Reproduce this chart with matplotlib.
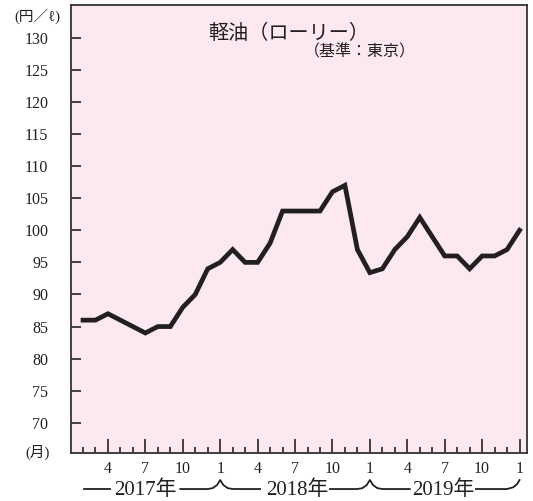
import matplotlib as mpl
mpl.use('Agg')
import matplotlib.pyplot as plt
import numpy as np

plt.rcParams['font.family'] = ['Liberation Serif', 'Noto Sans CJK JP', 'DejaVu Sans']

# monthly price, Feb 2017 .. Jan 2020 (yen / litre)
months = ['2017-02', '2017-03', '2017-04', '2017-05', '2017-06', '2017-07',
          '2017-08', '2017-09', '2017-10', '2017-11', '2017-12',
          '2018-01', '2018-02', '2018-03', '2018-04', '2018-05', '2018-06',
          '2018-07', '2018-08', '2018-09', '2018-10', '2018-11', '2018-12',
          '2019-01', '2019-02', '2019-03', '2019-04', '2019-05', '2019-06',
          '2019-07', '2019-08', '2019-09', '2019-10', '2019-11', '2019-12',
          '2020-01']
price = [86, 86, 87, 86, 85, 84, 85, 85, 88, 90, 94,
         95, 97, 95, 95, 98, 103, 103, 103, 103, 106, 107, 97,
         93.4, 94, 97, 99, 102, 99, 96, 96, 94, 96, 96, 97,
         100]
yticks = [70, 75, 80, 85, 90, 95, 100, 105, 110, 115, 120, 125, 130]
month_labels = ['4', '7', '10', '1']
years = ['2017年', '2018年', '2019年']

# x position: months since Jan 2017
xpos = [(int(m[:4]) - 2017) * 12 + int(m[5:]) - 1 for m in months]

fig = plt.figure(figsize=(5.33, 5.01), dpi=100)
ax = fig.add_axes([0.1323, 0.0958, 0.8565, 0.8942])
ax.set_facecolor('#fce8f1')

ax.plot(xpos, price, color='#231f20', lw=3.4, solid_joinstyle='miter')

ax.set_xlim(0, 36.6)
ax.set_ylim(65.3, 135.1)

for s in ax.spines.values():
    s.set_color('#333333')
    s.set_linewidth(1.3)

ax.set_yticks(yticks)
ax.set_yticklabels([str(v) for v in yticks])
ax.tick_params(axis='y', direction='in', length=7, width=1.3, color='#333333',
               pad=16, labelsize=11.5, labelcolor='#231f20')

major = list(range(3, 37, 3))
minor = [i for i in range(1, 37) if i % 3 != 0]
ax.set_xticks(major)
ax.set_xticklabels([month_labels[i % 4] for i in range(len(major))])
ax.set_xticks(minor, minor=True)
ax.tick_params(axis='x', which='major', direction='in', length=10, width=1.3,
               color='#333333', pad=6, labelsize=11.5, labelcolor='#231f20')
ax.tick_params(axis='x', which='minor', direction='in', length=4, width=1.3,
               color='#333333')

# titles and unit labels
ax.text(0.478, 0.9375, '軽油（ローリー）', transform=ax.transAxes, ha='center',
        va='center', fontsize=14.5, family=['Noto Sans CJK JP'], color='#231f20')
ax.text(0.634, 0.893, '（基準：東京）', transform=ax.transAxes, ha='center',
        va='center', fontsize=11.5, color='#231f20')
ax.text(-0.072, 0.975, '(円／ℓ)', transform=ax.transAxes, ha='center',
        va='center', fontsize=10.5, color='#231f20')
ax.text(-0.072, 0.002, '(月)', transform=ax.transAxes, ha='center',
        va='center', fontsize=10.5, color='#231f20')

# year row with brace-like separators
tr = ax.get_xaxis_transform()
yb, yp = -0.0804, -0.0603
kw = dict(color='#231f20', lw=1.3, transform=tr, clip_on=False)
ax.plot([1.1, 3.2], [yb, yb], **kw)
for c in (12, 24):
    ax.plot([c - 3.2, c - 1.0, c - 0.6, c - 0.25, c, c + 0.25, c + 0.6, c + 1.0, c + 3.2],
            [yb, yb, yb + 0.002, yb + 0.009, yp, yb + 0.009, yb + 0.002, yb, yb], **kw)
ax.plot([32.5, 35.0, 35.5, 35.8, 36.0], [yb, yb, yb + 0.004, yb + 0.011, yp], **kw)
for x, lab in zip([6.0, 18.2, 29.9], years):
    ax.text(x, yb - 0.003, lab, transform=tr, ha='center', va='center',
            fontsize=15, color='#231f20')

plt.savefig('out.png', dpi=100)
plt.close()
